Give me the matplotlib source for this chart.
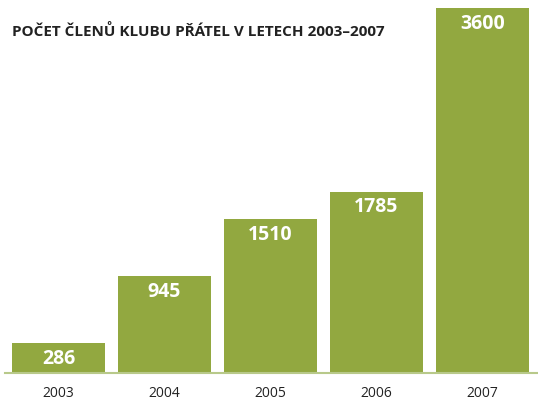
import matplotlib
matplotlib.use("Agg")
import matplotlib.pyplot as plt

years = ["2003", "2004", "2005", "2006", "2007"]
members = [286, 945, 1510, 1785, 3600]
title = "POČET ČLENŮ KLUBU PŘÁTEL V LETECH 2003–2007"

bar_color = "#92a840"
base_color = "#b8c98a"

fig = plt.figure(figsize=(5.38, 4.0), dpi=100)
ax = fig.add_axes([5.5 / 538, 1 - 372 / 400, 530 / 538, 372 / 400])
x = list(range(len(years)))
ax.bar(x, members, width=0.88, color=bar_color, zorder=2)
ax.set_xlim(-0.5, 4.5)
ax.set_ylim(0, 3600 * 372 / 364)
for s in ax.spines.values():
    s.set_visible(False)
ax.set_xticks([])
ax.set_yticks([])

for xi, v in zip(x, members):
    ax.annotate(str(v), (xi, v), xytext=(0, -11.5), textcoords="offset points",
                ha="center", va="center", color="white", fontsize=14,
                fontweight="bold", family="Open Sans")
for xi, y in zip(x, years):
    ax.annotate(y, (xi, 0), xytext=(0, -15.5), textcoords="offset points",
                ha="center", va="center", color="#222222", fontsize=10,
                family="Open Sans", annotation_clip=False)

fig.add_artist(plt.Line2D([5 / 538, 1], [1 - 372.5 / 400] * 2, color=base_color,
                          lw=1.5, transform=fig.transFigure))
fig.text(12 / 538, 1 - 32 / 400, title, ha="left", va="center", fontsize=11,
         fontweight="bold", color="#222222", family="Open Sans")

fig.savefig("out.png", dpi=100)
